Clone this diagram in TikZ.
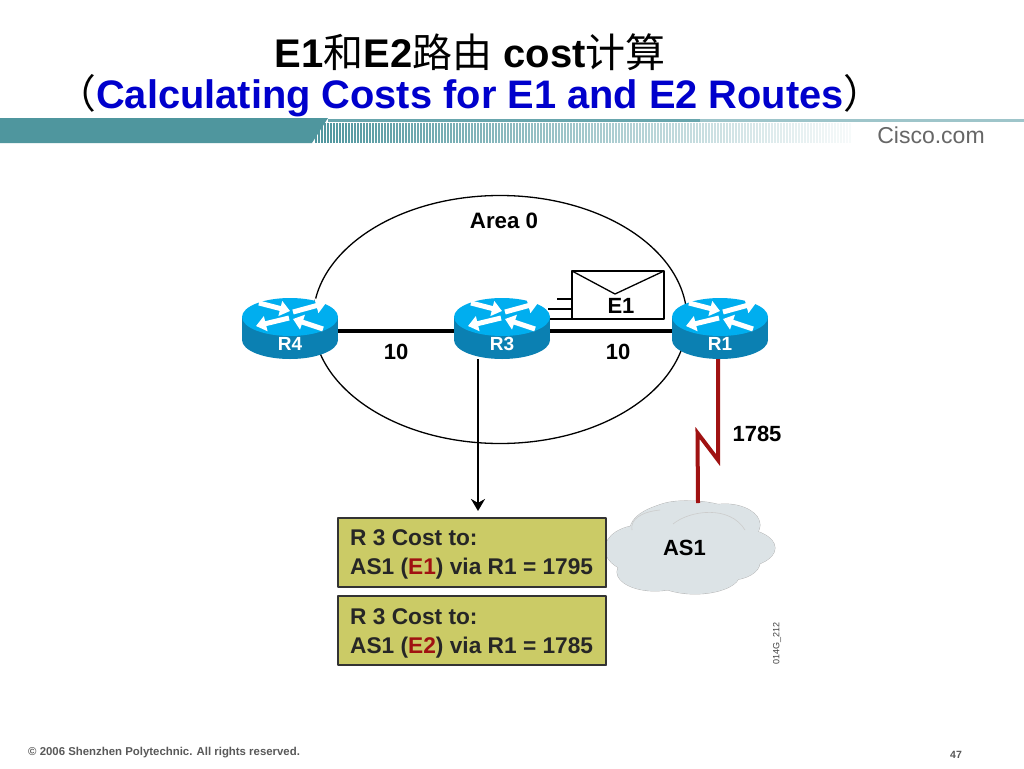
\documentclass[tikz,border=0pt]{standalone}
\usepackage{fontspec}
\setmainfont{Liberation Sans}
\newfontfamily\cjk{Noto Sans CJK SC}
\usetikzlibrary{arrows.meta}
\definecolor{bandteal}{HTML}{4F969E}
\definecolor{routertop}{HTML}{00AEEF}
\definecolor{routerside}{HTML}{0B80B2}
\definecolor{wanred}{HTML}{A01212}
\definecolor{costfill}{HTML}{CBCB66}
\definecolor{cloudfill}{HTML}{DCE3E6}
\definecolor{titleblue}{HTML}{0000CC}
\newcommand{\fsz}[1]{\fontsize{#1}{#1}\selectfont}
\tikzset{
	routerbox/.style={minimum width=96pt, minimum height=61pt, inner sep=0pt},
	routertext/.style={text=white, font=\bfseries\fsz{19}, inner sep=0pt},
	routerarrow/.style={white, line width=5pt, -{Triangle[width=15pt,length=10pt]}},
	linklabel/.style={font=\bfseries\fsz{22}, inner sep=0pt},
	lan/.style={line width=4.6pt},
	wan/.style={line width=4pt, wanred, line join=miter},
	costbox/.style={draw=black!80, line width=1.4pt, fill=costfill, minimum width=268pt, minimum height=69pt, inner sep=0pt},
	costtext/.style={font=\bfseries\fontsize{22.7}{29}\selectfont, align=left, anchor=west, inner sep=0pt, text=black!85},
	titletext/.style={inner sep=0pt}
}
\newcommand{\routericon}[3]{
	\begin{scope}[shift={(#2,#3)}]
		\fill[routerside] (0,23) ellipse [x radius=48, y radius=19];
		\fill[routerside] (-48,0) rectangle (48,23);
		\fill[routertop] (0,0) ellipse [x radius=48, y radius=19];
		\foreach \xa/\ya/\xb/\yb in {-31/-14/0/-6, 3/-5/36/-14, -1/1/-34/9, 33/12/3/2}
		\draw[routerarrow] (\xa,\ya)--(\xb,\yb);
		\node[routerbox] (#1) at (0,11.5) {};
		\node[routertext] (#1text) at (0,27) {#1};
	\end{scope}
}
\begin{document}
\begin{tikzpicture}[x=1pt, y=-1pt, line join=round, >=stealth]
	\useasboundingbox[fill=white] (0,0) rectangle (1024,768);
	% title
	\node[titletext, font=\bfseries\fsz{40}] (titleA) at (470,52) {E1{\cjk\mdseries 和}E2{\cjk\mdseries 路由} cost{\cjk\mdseries 计算}};
	\node[titletext, font=\bfseries\fsz{39.8}] (titleB) at (470,96) {{\cjk\mdseries （}\textcolor{titleblue}{Calculating Costs for E1 and E2 Routes}{\cjk\mdseries ）}};
	% header band
	\fill[bandteal] (0,118)--(328,118)--(312,143)--(0,143)--cycle;
	\fill[bandteal!85] (328,119) rectangle (700,122);
	\fill[bandteal!55] (700,119) rectangle (1024,122);
	\foreach \x in {316,319,...,850}{
		\pgfmathsetmacro{\fade}{1-(\x-316)/560}
		\draw[bandteal, line width=1.5pt, opacity=\fade] (\x,123)--(\x,143);
	}
	\node[font=\fsz{23}, text=black!60, inner sep=0pt] (cisco) at (931,135) {Cisco.com};
	% area
	\draw[line width=1.3pt] (500,319.5) ellipse [x radius=187, y radius=124];
	\node[font=\bfseries\fsz{22.3}, inner sep=0pt] (area) at (504,221) {Area 0};
	% envelope
	\draw[line width=1.3pt, fill=white] (572,271) rectangle (664,319);
	\draw[line width=1.3pt] (572,271)--(615,294)--(664,271);
	\draw[line width=1.3pt] (557,299)--(572,299) (548,309)--(572,309) (550,319)--(572,319);
	\node[font=\bfseries\fsz{22}, inner sep=0pt] (msg) at (621,306) {E1};
	% routers
	\routericon{R4}{290}{317}
	\routericon{R3}{502}{317}
	\routericon{R1}{720}{317}
	\draw[lan] (R4.east |- 0,331)--(R3.west |- 0,331);
	\draw[lan] (R3.east |- 0,331)--(R1.west |- 0,331);
	\node[linklabel] (costA) at (396,352) {10};
	\node[linklabel] (costB) at (618,352) {10};
	% cloud
	\foreach \fillpass in {0,1}{
		\foreach \cx/\cy/\rx/\ry in {642/549/37/24, 735/548/40/20, 690/530/60/29, 683/516/35/15, 725/525/35/21, 655/572/38/19, 695/574/45/20, 730/562/30/18}{
			\ifnum\fillpass=0
				\draw[black!30, line width=.8pt] (\cx,\cy) ellipse [x radius=\rx, y radius=\ry];
			\else
				\fill[cloudfill] (\cx,\cy) ellipse [x radius=\rx, y radius=\ry];
			\fi
		}
	}
	\draw[black!20, line width=.6pt] (632,530) .. controls (630,520) and (640,512) .. (660,510);
	\draw[black!20, line width=.6pt] (673,524) .. controls (690,510) and (730,505) .. (745,530);
	\node[minimum width=170pt, minimum height=94pt, inner sep=0pt, font=\bfseries\fsz{22}] (AS1) at (684.5,548) {AS1};
	\coordinate (cloudtop) at (698,503);
	\draw[wan] (718,359)--(718,460)--(697.5,433)--(cloudtop);
	\node[linklabel] (wancost) at (757,434) {1785};
	% cost boxes
	\node[costbox] (costone) at (472,552.5) {};
	\node[costbox] (costtwo) at (472,630.5) {};
	\draw[black!80, line width=2.4pt] (338,587)--(606,587)--(606,518);
	\draw[black!80, line width=2.4pt] (338,665)--(606,665)--(606,596);
	\node[costtext] (costonetext) at (350,554) {R 3 Cost to:\\AS1 (\textcolor{wanred}{E1}) via R1 = 1795};
	\node[costtext] (costtwotext) at (350,633) {R 3 Cost to:\\AS1 (\textcolor{wanred}{E2}) via R1 = 1785};
	\coordinate (costin) at (478,518);
	\draw[line width=2.4pt, -{Stealth[width=14pt,length=12pt]}, shorten >=7pt] (R3.south -| costin)--(costin);
	% small print
	\node[rotate=90, font=\fsz{9}, text=black!75, inner sep=0pt] (artno) at (777,643) {014G\_212};
	\node[font=\bfseries\fsz{11.4}, text=black!65, inner sep=0pt, anchor=west] (copy) at (28,753) {© 2006 Shenzhen Polytechnic. All rights reserved.};
	\node[font=\bfseries\fsz{10.5}, text=black!65, inner sep=0pt] (page) at (956,755) {47};
\end{tikzpicture}
\end{document}
